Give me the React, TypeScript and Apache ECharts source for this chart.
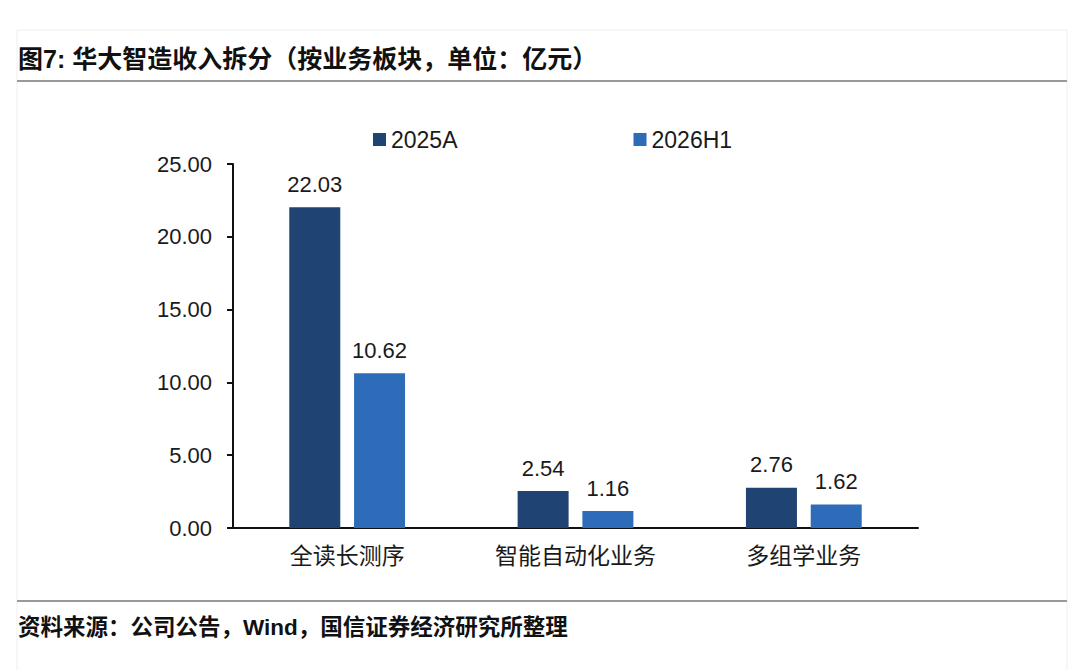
import React, { useEffect, useRef } from "react";
import * as echarts from "echarts";

const categories = ["全读长测序", "智能自动化业务", "多组学业务"];
const seriesNames = ["2025A", "2026H1"];
const values2025A = [22.03, 2.54, 2.76];
const values2026H1 = [10.62, 1.16, 1.62];
const yTicks = [0, 5, 10, 15, 20, 25];
const titleText = "图7: 华大智造收入拆分（按业务板块，单位：亿元）";
const sourceText = "资料来源：公司公告，Wind，国信证券经济研究所整理";

const FONT = "'Liberation Sans', Arial, 'Noto Sans CJK SC', sans-serif";
const TEXT = "#1a1a1a";
const COLORS = ["#1F4373", "#2E6BB8"];

export default function App() {
  const ref = useRef<HTMLDivElement>(null);

  useEffect(() => {
    if (!ref.current) return;
    const chart = echarts.init(ref.current, undefined, { renderer: "svg" });
    const seriesData = [values2025A, values2026H1];
    chart.setOption({
      animation: false,
      backgroundColor: "#ffffff",
      textStyle: { fontFamily: FONT },
      grid: { left: 233, right: 162, top: 164, bottom: 142, containLabel: false },
      legend: {
        data: seriesNames,
        left: 373,
        top: 128,
        padding: 0,
        itemWidth: 13,
        itemHeight: 13,
        itemGap: 176,
        icon: "rect",
        textStyle: { fontSize: 23, color: TEXT, fontFamily: FONT },
      },
      xAxis: {
        type: "category",
        data: categories,
        axisLine: { show: true, lineStyle: { color: "#111", width: 2 } },
        axisTick: { show: false },
        axisLabel: { fontSize: 23, color: TEXT, margin: 16, fontFamily: FONT },
        splitLine: { show: false },
      },
      yAxis: {
        type: "value",
        min: yTicks[0],
        max: yTicks[yTicks.length - 1],
        interval: yTicks[1] - yTicks[0],
        axisLine: { show: true, lineStyle: { color: "#111", width: 2 } },
        axisTick: { show: true, length: 6, lineStyle: { color: "#111", width: 2 } },
        axisLabel: {
          fontSize: 22,
          color: TEXT,
          margin: 21,
          fontFamily: FONT,
          formatter: (v: number) => v.toFixed(2),
        },
        splitLine: { show: false },
      },
      series: seriesNames.map((name, i) => ({
        name,
        type: "bar",
        data: seriesData[i],
        barWidth: 51,
        barGap: "27%",
        itemStyle: { color: COLORS[i] },
        label: {
          show: true,
          position: "top",
          distance: 12,
          fontSize: 22,
          color: TEXT,
          fontFamily: FONT,
          formatter: (p: any) => Number(p.value).toFixed(2),
        },
      })),
      graphic: [
        {
          type: "rect",
          shape: { x: 17, y: 30, width: 1050, height: 660 },
          style: { fill: "none", stroke: "#eeeeee", lineWidth: 1 },
          silent: true,
        },
        {
          type: "line",
          shape: { x1: 17, y1: 81, x2: 1067, y2: 81 },
          style: { stroke: "#999999", lineWidth: 2 },
          silent: true,
        },
        {
          type: "line",
          shape: { x1: 17, y1: 601, x2: 1067, y2: 601 },
          style: { stroke: "#999999", lineWidth: 2 },
          silent: true,
        },
        {
          type: "text",
          x: 18,
          y: 59,
          style: {
            text: titleText,
            fontSize: 25,
            fontWeight: "bold",
            fontFamily: FONT,
            fill: "#111",
            verticalAlign: "middle",
            textVerticalAlign: "middle",
          },
        },
        {
          type: "text",
          x: 18,
          y: 627,
          style: {
            text: sourceText,
            fontSize: 22.5,
            fontWeight: "bold",
            fontFamily: FONT,
            fill: "#111",
            verticalAlign: "middle",
            textVerticalAlign: "middle",
          },
        },
      ],
    });
    return () => chart.dispose();
  }, []);

  return (
    <div
      ref={ref}
      style={{ position: "fixed", left: 0, top: 0, width: 1080, height: 670 }}
    />
  );
}
